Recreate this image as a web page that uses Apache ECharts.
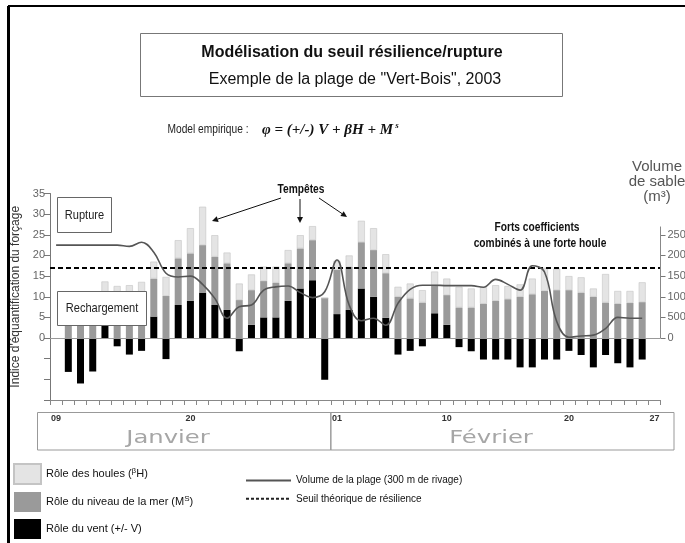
<!DOCTYPE html>
<html>
<head>
<meta charset="utf-8">
<script src="https://cdn.jsdelivr.net/npm/echarts@6/dist/echarts.min.js"></script>
<style>
  html, body { margin: 0; padding: 0; background: #fff; }
  #chart { width: 685px; height: 543px; }
</style>
</head>
<body>
<div id="chart"></div>
<script>
// Daily categories, 9 January to 27 February 2003
const dates = [
  '2003-01-09','2003-01-10','2003-01-11','2003-01-12','2003-01-13','2003-01-14','2003-01-15','2003-01-16',
  '2003-01-17','2003-01-18','2003-01-19','2003-01-20','2003-01-21','2003-01-22','2003-01-23','2003-01-24',
  '2003-01-25','2003-01-26','2003-01-27','2003-01-28','2003-01-29','2003-01-30','2003-01-31',
  '2003-02-01','2003-02-02','2003-02-03','2003-02-04','2003-02-05','2003-02-06','2003-02-07','2003-02-08',
  '2003-02-09','2003-02-10','2003-02-11','2003-02-12','2003-02-13','2003-02-14','2003-02-15','2003-02-16',
  '2003-02-17','2003-02-18','2003-02-19','2003-02-20','2003-02-21','2003-02-22','2003-02-23','2003-02-24',
  '2003-02-25','2003-02-26','2003-02-27'
];
// Dates whose day number is printed under the axis
const labeledDates = ['2003-01-09', '2003-01-20', '2003-02-01', '2003-02-10', '2003-02-20', '2003-02-27'];
const months = ['Janvier', 'Février'];

// Forcing index components (stacked bars)
const wind = [
  null, -8.2, -11.0, -8.1, 3.2, -2.0, -4.0, -3.1, 5.2, -5.1, 8.0, 9.0, 11.0, 8.0, 6.8, -3.2,
  3.2, 5.0, 5.0, 9.0, 12.0, 14.0, -10.1, 5.8, 6.8, 12.0, 10.0, 4.9, -4.0, -3.1, -2.0, 6.0,
  3.2, -2.2, -3.2, -5.2, -5.2, -5.2, -7.1, -7.1, -5.2, -5.2, -3.1, -4.1, -7.1, -4.1, -6.1, -7.1,
  -5.2, null
];
const seaLevel = [
  null, 9.0, 9.5, 9.0, 7.5, 10.5, 10.5, 10.8, 9.2, 10.2, 11.3, 11.5, 11.5, 11.7, 11.3, 9.2,
  8.4, 8.8, 8.4, 9.1, 9.7, 9.7, 9.7, 10.7, 10.4, 11.2, 11.3, 10.8, 10.0, 9.6, 8.6, 6.8,
  7.2, 7.4, 7.4, 8.3, 9.0, 9.4, 10.0, 10.6, 11.4, 11.6, 11.6, 11.0, 10.0, 8.6, 8.3, 8.5,
  8.7, null
];
const swell = [
  null, 2.0, 1.5, 2.0, 3.0, 2.1, 2.3, 2.8, 4.1, 4.6, 4.4, 6.1, 9.3, 5.2, 2.6, 4.0,
  3.8, 3.5, 3.9, 3.2, 3.2, 3.4, 0, 2.2, 2.8, 5.2, 5.3, 4.6, 2.4, 3.6, 3.0, 3.3,
  4.0, 5.0, 4.6, 4.0, 3.8, 3.2, 3.0, 3.8, 5.6, 5.2, 3.4, 3.7, 2.0, 6.9, 3.1, 2.9,
  4.8, null
];
// Beach volume over 300 m of shoreline (m³)
const beachVolume = [
  2250, 2250, 2250, 2250, 2250, 2250, 2220, 2320, 2080, 1570, 1480, 1500, 1300, 960, 480, 760,
  800, 1160, 1240, 1260, 1100, 980, 1120, 1890, 800, 420, 480, 310, 840, 1180, 1280, 1280,
  1270, 1270, 1270, 1230, 1420, 1300, 1160, 1750, 1600, 400, 20, 50, 70, 230, 500, 480,
  480, null
];
const resilienceThreshold = 17;
const volumeTicks = [0, 500, 1000, 1500, 2000, 2500];

const SANS = "'Liberation Sans', Arial, sans-serif";
const SERIF = "'Liberation Serif', 'DejaVu Serif', serif";

const GRID = { left: 50, right: 24.5, top: 193.5, bottom: 143, outerBoundsMode: 'none', containLabel: false };

const chart = echarts.init(document.getElementById('chart'), null, { renderer: 'canvas' });

const names = {
  swell: 'Rôle des houles (βH)',
  sea: 'Rôle du niveau de la mer (MS)',
  wind: 'Rôle du vent (+/- V)',
  volume: 'Volume de la plage (300 m de rivage)',
  threshold: 'Seuil théorique de résilience'
};

const option = {
  animation: false,
  backgroundColor: '#fff',
  grid: GRID,
  legend: [
    {
      data: [names.swell, names.sea, names.wind],
      orient: 'vertical', left: 13, top: 463, padding: 0,
      itemWidth: 27, itemHeight: 20, itemGap: 7,
      icon: 'rect',
      textStyle: {
        fontFamily: SANS, fontSize: 11, color: '#111',
        rich: {
          t: { fontFamily: SANS, fontSize: 11, color: '#111' },
          sup: { fontFamily: SANS, fontSize: 8, color: '#111', verticalAlign: 'bottom', padding: [0, 0, 6, 0] }
        }
      },
      formatter: function (n) {
        if (n === names.swell) return '{t|Rôle des houles (}{sup|β}{t|H)}';
        if (n === names.sea) return '{t|Rôle du niveau de la mer (M}{sup|S}{t|)}';
        return '{t|' + n + '}';
      }
    },
    {
      data: [names.volume, names.threshold],
      orient: 'vertical', left: 245, top: 475, padding: 0,
      itemWidth: 45, itemHeight: 14, itemGap: 7,
      itemStyle: { opacity: 0 },
      textStyle: { fontFamily: SANS, fontSize: 10, color: '#111' }
    }
  ],
  xAxis: {
    type: 'category',
    data: dates,
    boundaryGap: true,
    axisLine: { onZero: false, lineStyle: { color: '#888', width: 1 } },
    axisTick: { show: true, interval: 0, length: 5, lineStyle: { color: '#888' } },
    axisLabel: {
      interval: 0,
      margin: 14,
      fontFamily: SANS, fontSize: 9, color: '#333', fontWeight: 'bold',
      formatter: function (v) { return labeledDates.indexOf(v) >= 0 ? v.slice(8) : ''; }
    }
  },
  yAxis: [
    {
      type: 'value', min: -15, max: 35, interval: 5,
      name: "Indice d'équantification du forçage",
      nameLocation: 'middle', nameRotate: 90, nameGap: 27,
      nameTextStyle: { fontFamily: SANS, fontSize: 12, color: '#333' },
      axisLine: { show: true, lineStyle: { color: '#777' } },
      axisTick: { show: true, length: 6, lineStyle: { color: '#777' } },
      axisLabel: {
        margin: 5, fontFamily: SANS, fontSize: 11, color: '#666',
        formatter: function (v) { return v < 0 ? '' : String(v); }
      },
      splitLine: { show: false }
    },
    {
      type: 'value', min: -1500, max: 3500, interval: 500,
      position: 'right',
      axisLine: { show: false },
      axisTick: { show: true, length: 5, lineStyle: { color: '#777' }, customValues: volumeTicks },
      axisLabel: {
        margin: 7, fontFamily: SANS, fontSize: 11, color: '#666',
        customValues: volumeTicks,
        formatter: function (v) { return String(v); }
      },
      splitLine: { show: false }
    }
  ],
  series: [
    {
      name: names.wind, type: 'bar', stack: 'phi', barWidth: 7,
      data: wind,
      itemStyle: { color: '#000' },
      markLine: {
        silent: true, symbol: 'none', label: { show: false },
        lineStyle: { color: '#999', width: 1, type: 'solid' },
        data: [{ yAxis: 0 }]
      }
    },
    {
      name: names.sea, type: 'bar', stack: 'phi', barWidth: 7,
      data: seaLevel,
      itemStyle: { color: '#9a9a9a' }
    },
    {
      name: names.swell, type: 'bar', stack: 'phi', barWidth: 7,
      data: swell,
      itemStyle: { color: '#e4e4e4', borderColor: '#c4c4c4', borderWidth: 0.6 }
    },
    {
      name: names.volume, type: 'line', yAxisIndex: 1,
      data: beachVolume, smooth: 0.4, symbol: 'none', connectNulls: false,
      lineStyle: { color: '#555', width: 1.6 },
      itemStyle: { color: '#555' },
      z: 5
    },
    {
      name: names.threshold, type: 'line', data: [], symbol: 'none',
      lineStyle: { color: '#222', width: 1, type: [3, 2] },
      itemStyle: { color: '#222' },
      markLine: {
        silent: true, symbol: 'none', label: { show: false },
        lineStyle: { color: '#000', width: 2, type: [5, 3] },
        data: [{ yAxis: resilienceThreshold }]
      },
      z: 6
    }
  ]
};

chart.setOption(option);

// Arrow helper: shaft plus filled head
function arrow(x1, y1, x2, y2) {
  const a = Math.atan2(y2 - y1, x2 - x1), L = 6, W = 3;
  const bx = x2 - L * Math.cos(a), by = y2 - L * Math.sin(a);
  const px = -Math.sin(a) * W, py = Math.cos(a) * W;
  return [
    { type: 'line', shape: { x1: x1, y1: y1, x2: bx, y2: by }, style: { stroke: '#111', lineWidth: 1 }, z: 20 },
    { type: 'polygon', shape: { points: [[x2, y2], [bx + px, by + py], [bx - px, by - py]] }, style: { fill: '#111' }, z: 20 }
  ];
}

// Condensed text: horizontally squeezed around its anchor point
function narrowText(x, y, text, font, fill, sx, z) {
  return { type: 'text', x: x, y: y, scaleX: sx, z: z || 13,
    style: { text: text, font: font, fill: fill, align: 'center', verticalAlign: 'middle' } };
}

const px = (i) => chart.convertToPixel({ xAxisIndex: 0 }, dates[i]);
const monthSplit = (px(22) + px(23)) / 2;
const volTop = chart.convertToPixel({ yAxisIndex: 1 }, 2700);
const volZero = chart.convertToPixel({ yAxisIndex: 1 }, 0);
const rightX = 685 - GRID.right;

const graphics = [
  // outer frame edges
  { type: 'line', shape: { x1: 8.5, y1: 6, x2: 8.5, y2: 543 }, style: { stroke: '#000', lineWidth: 3 }, z: 30 },
  { type: 'line', shape: { x1: 8, y1: 6, x2: 685, y2: 6 }, style: { stroke: '#000', lineWidth: 2 }, z: 30 },

  // title block
  { type: 'rect', shape: { x: 140.5, y: 33.5, width: 422, height: 63 }, style: { fill: '#fff', stroke: '#777', lineWidth: 1 }, z: 10 },
  { type: 'text', x: 352, y: 53, z: 11, style: { text: 'Modélisation du seuil résilience/rupture', font: 'bold 16px ' + SANS, fill: '#111', align: 'center', verticalAlign: 'middle' } },
  { type: 'text', x: 355, y: 80, z: 11, style: { text: 'Exemple de la plage de "Vert-Bois", 2003', font: '16px ' + SANS, fill: '#111', align: 'center', verticalAlign: 'middle' } },

  // empirical model
  narrowText(208, 130, 'Model empirique :', '12px ' + SANS, '#222', 0.85, 11),
  { type: 'text', x: 262, y: 130, z: 11, style: {
      text: '{f|φ = (+/-) V + βH + M}{s| s}', align: 'left', verticalAlign: 'middle',
      rich: {
        f: { font: 'italic bold 15px ' + SERIF, fill: '#111' },
        s: { font: 'italic bold 9px ' + SERIF, fill: '#111', verticalAlign: 'top', padding: [0, 0, 8, 0] }
      }
    } },

  // right axis title
  { type: 'text', x: 657, y: 182, z: 11, style: { text: 'Volume\nde sable\n(m³)', font: '15px ' + SANS, fill: '#555', align: 'center', verticalAlign: 'middle', lineHeight: 15 } },
  // right axis line (0 to top)
  { type: 'line', shape: { x1: rightX, y1: volTop, x2: rightX, y2: volZero }, style: { stroke: '#888', lineWidth: 1 }, z: 9 },

  // zone labels
  { type: 'rect', shape: { x: 57.5, y: 197.5, width: 54, height: 35 }, style: { fill: '#fff', stroke: '#666', lineWidth: 1 }, z: 12 },
  narrowText(84.5, 215, 'Rupture', '13px ' + SANS, '#222', 0.85),
  { type: 'rect', shape: { x: 57.5, y: 291.5, width: 89, height: 34 }, style: { fill: '#fff', stroke: '#666', lineWidth: 1 }, z: 12 },
  narrowText(102, 308.5, 'Rechargement', '13px ' + SANS, '#222', 0.85),

  // storms
  narrowText(301, 190, 'Tempêtes', 'bold 12px ' + SANS, '#111', 0.85),
  ...arrow(281, 198, 212, 221),
  ...arrow(300, 199, 300, 223),
  ...arrow(319, 198, 347, 217),

  // spring tides note
  narrowText(537, 228, 'Forts coefficients', 'bold 12px ' + SANS, '#111', 0.85),
  narrowText(540, 244, 'combinés à une forte houle', 'bold 12px ' + SANS, '#111', 0.85),

  // month boxes under the date axis
  { type: 'rect', shape: { x: 37.5, y: 412.5, width: monthSplit - 37.5, height: 37.5 }, style: { fill: 'none', stroke: '#999', lineWidth: 1 }, z: 8 },
  { type: 'rect', shape: { x: monthSplit, y: 412.5, width: 674 - monthSplit, height: 37.5 }, style: { fill: 'none', stroke: '#999', lineWidth: 1 }, z: 8 },
  narrowText(168, 438, months[0], '18px DejaVu Sans', '#a6a6a6', 1.35, 9),
  narrowText(491, 438, months[1], '18px DejaVu Sans', '#a6a6a6', 1.35, 9)
];

chart.setOption({ graphic: graphics });
</script>
</body>
</html>
